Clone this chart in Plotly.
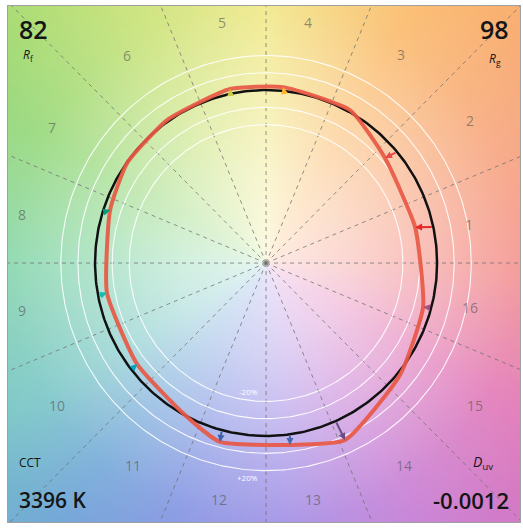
import numpy as np
import plotly.graph_objects as go

# ---------------- data ----------------
bins = list(range(1, 17))
bin_colors = ["#e62828", "#e74b4b", "#fb812e", "#ffb529", "#cbca46", "#7eb94c",
              "#41c06d", "#009c7c", "#16bcb0", "#00a4bf", "#0085c3", "#3b62aa",
              "#4568ae", "#6a4e85", "#9d69a1", "#a74f81"]
ref_hue_deg = [12, 40, 61, 84, 102, 125, 145, 163, 191, 218, 241, 255, 278, 294, 321, 345]
test_hue_deg = [13.4, 41.1, 60.9, 84.4, 101.8, 125.0, 144.6, 161.4, 190.5, 217.8,
                242.0, 255.4, 277.6, 294.3, 320.5, 344.5]
chroma_ratio = [0.896, 0.923, 1.011, 1.022, 1.028, 1.009, 0.997, 0.962, 0.946, 0.954,
                1.000, 1.069, 1.061, 1.123, 1.016, 0.953]
grid_circles = [0.8, 0.9, 1.1, 1.2]
Rf, Rg = 82, 98
CCT = 3396
Duv = -0.0012

# ---------------- layout helpers ----------------
label_r = [1.21, 1.45, 1.44, 1.415, 1.417, 1.45, 1.477, 1.455, 1.453, 1.475,
           1.408, 1.397, 1.397, 1.419, 1.473, 1.22]
label_ang = [10.7, 34.5, 56.7, 80.0, 100.5, 124.0, 147.9, 168.8, 190.8, 213.9,
             236.4, 258.6, 281.4, 304.5, 326.0, 347.9]

X0, X1 = -1.509, 1.485
Y0, Y1 = -1.497, 1.486

fig = go.Figure()

# background hue field
N = 90
xs = np.linspace(X0, X1, N)
ys = np.linspace(Y0, Y1, N)
GX, GY = np.meshgrid(xs, ys)
ang = np.degrees(np.arctan2(GY, GX)) % 360
rad = np.hypot(GX, GY)
hue_scale = [
    [0 / 360, "#f4928c"], [30 / 360, "#f7a67a"], [60 / 360, "#fbbb6c"],
    [90 / 360, "#f1e884"], [120 / 360, "#c6e276"], [150 / 360, "#96d878"],
    [180 / 360, "#86d6ac"], [210 / 360, "#78c6c6"], [230 / 360, "#72a8d8"],
    [250 / 360, "#8092e2"], [275 / 360, "#a08ce6"], [300 / 360, "#c67ed6"],
    [330 / 360, "#e278b8"], [1.0, "#f4928c"]]
fig.add_trace(go.Heatmap(x=xs, y=ys, z=ang, zmin=0, zmax=360, colorscale=hue_scale,
                         showscale=False, zsmooth="fast", hoverinfo="skip"))
white_scale = [[0.0, "rgba(255,255,255,0.8)"], [0.25, "rgba(255,255,255,0.62)"],
               [0.5, "rgba(255,255,255,0.38)"], [0.75, "rgba(255,255,255,0.12)"],
               [1.0, "rgba(255,255,255,0.0)"]]
fig.add_trace(go.Heatmap(x=xs, y=ys, z=rad, zmin=0, zmax=2.0, colorscale=white_scale,
                         showscale=False, zsmooth="best", hoverinfo="skip"))

# dashed radial lines
for k in range(16):
    a = np.radians(22.5 * k)
    fig.add_trace(go.Scatter(x=[0, 2.2 * np.cos(a)], y=[0, 2.2 * np.sin(a)], mode="lines",
                             line=dict(color="rgba(110,110,110,0.75)", width=1, dash="4px,4px"),
                             hoverinfo="skip", showlegend=False))

t = np.linspace(0, 2 * np.pi, 361)
for rc in grid_circles:
    fig.add_trace(go.Scatter(x=rc * np.cos(t), y=rc * np.sin(t), mode="lines",
                             line=dict(color="rgba(255,255,255,0.9)", width=1.1),
                             hoverinfo="skip", showlegend=False))

# reference circle
fig.add_trace(go.Scatter(x=np.cos(t), y=np.sin(t), mode="lines",
                         line=dict(color="#111111", width=2.5),
                         hoverinfo="skip", showlegend=False))

# test polygon
th = np.radians(test_hue_deg)
tx = np.array(chroma_ratio) * np.cos(th)
ty = np.array(chroma_ratio) * np.sin(th)
fig.add_trace(go.Scatter(x=list(tx) + [tx[0]], y=list(ty) + [ty[0]], mode="lines",
                         line=dict(color="rgba(232,88,68,0.92)", width=4, shape="spline",
                                   smoothing=0.5),
                         hoverinfo="skip", showlegend=False))

annotations = []
rh = np.radians(ref_hue_deg)
for i in range(16):
    annotations.append(dict(x=tx[i], y=ty[i], ax=np.cos(rh[i]), ay=np.sin(rh[i]),
                            xref="x", yref="y", axref="x", ayref="y", text="",
                            showarrow=True, arrowhead=2, arrowsize=0.7, arrowwidth=2,
                            arrowcolor=bin_colors[i]))
for i, b in enumerate(bins):
    a = np.radians(label_ang[i])
    annotations.append(dict(x=label_r[i] * np.cos(a), y=label_r[i] * np.sin(a),
                            xref="x", yref="y", text=str(b), showarrow=False,
                            font=dict(family="Open Sans", size=14, color="rgba(80,80,80,0.6)")))

def pa(x, y, text, size, xanchor="left", weight="normal", color="#151515", family="Open Sans"):
    annotations.append(dict(x=x, y=y, xref="paper", yref="paper", text=text, showarrow=False,
                            xanchor=xanchor, yanchor="middle",
                            font=dict(family=family, size=size, color=color, weight=weight)))

pa(0.018, 0.955, str(Rf), 25, weight=600)
pa(0.025, 0.905, "<i>R</i><sub>f</sub>", 12)
pa(0.983, 0.955, str(Rg), 25, xanchor="right", weight=600)
pa(0.966, 0.897, "<i>R</i><sub>g</sub>", 12, xanchor="right")
pa(0.018, 0.115, "CCT", 12)
pa(0.018, 0.043, f"{CCT} K", 21, weight=600)
pa(0.952, 0.115, "<i>D</i><sub>uv</sub>", 14, xanchor="right")
pa(0.983, 0.043, f"{Duv:.4f}", 22, xanchor="right", weight=600)

# percentage labels
annotations.append(dict(x=-0.1, y=-0.745, xref="x", yref="y", text="-20%", showarrow=False,
                        font=dict(family="Open Sans", size=8, color="white")))
annotations.append(dict(x=-0.11, y=-1.24, xref="x", yref="y", text="+20%", showarrow=False,
                        font=dict(family="Open Sans", size=8, color="white")))

fig.update_layout(
    width=523, height=529,
    margin=dict(l=8, r=3, t=6, b=7),
    paper_bgcolor="white", plot_bgcolor="white",
    showlegend=False,
    annotations=annotations,
    xaxis=dict(range=[X0, X1], visible=True, showgrid=False, zeroline=False, showticklabels=False,
               ticks="", showline=True, mirror=True, linecolor="#a0a0a0", linewidth=1),
    yaxis=dict(range=[Y0, Y1], showgrid=False, zeroline=False, showticklabels=False,
               ticks="", showline=True, mirror=True, linecolor="#a0a0a0", linewidth=1),
)
fig.write_html("out.html", config={"displayModeBar": False},
               post_script="document.body.style.margin='0';")
